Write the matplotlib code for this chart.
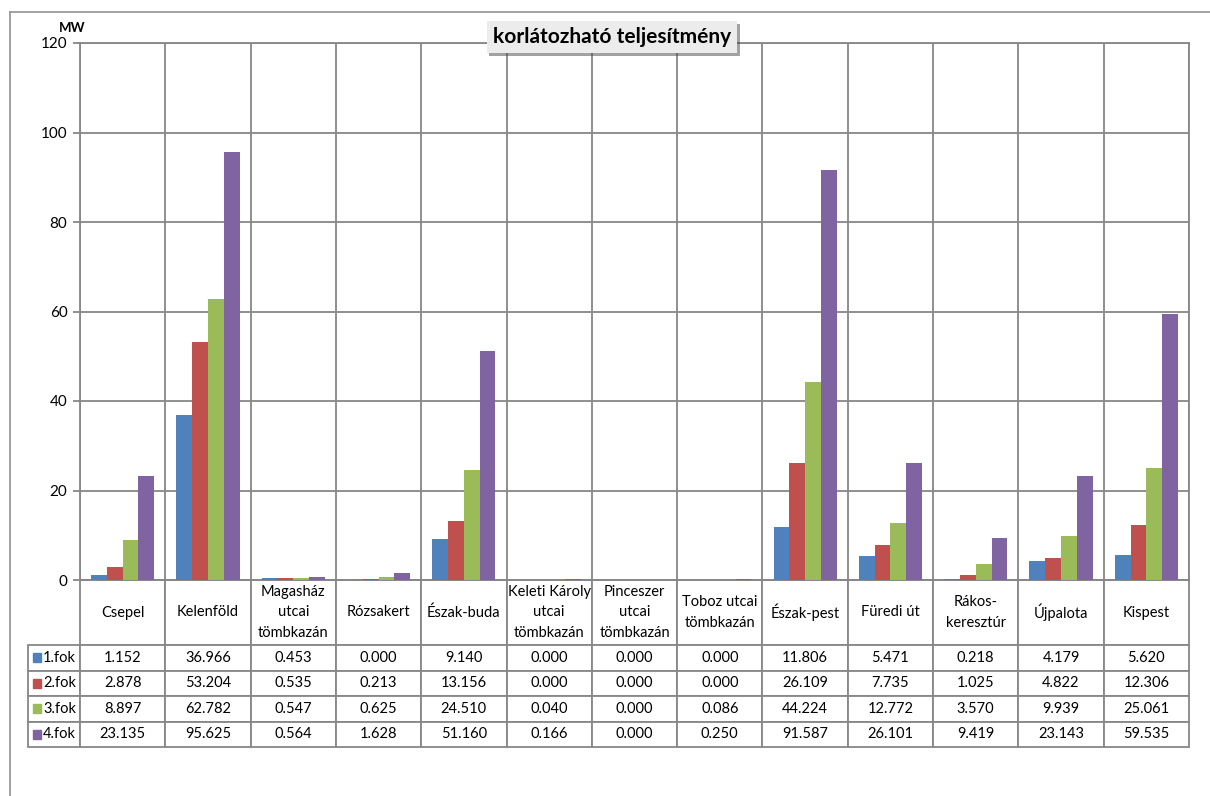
import matplotlib
matplotlib.use('Agg')
import matplotlib.pyplot as plt
import matplotlib.patheffects as pe
from matplotlib.lines import Line2D
from matplotlib.patches import Rectangle
import numpy as np

plt.rcParams['font.family'] = ['Lato', 'DejaVu Sans']

categories = ['Csepel', 'Kelenföld', 'Magasház\nutcai\ntömbkazán', 'Rózsakert',
              'Észak-buda', 'Keleti Károly\nutcai\ntömbkazán', 'Pinceszer\nutcai\ntömbkazán',
              'Toboz utcai\ntömbkazán', 'Észak-pest', 'Füredi út', 'Rákos-\nkeresztúr',
              'Újpalota', 'Kispest']
series_names = ['1.fok', '2.fok', '3.fok', '4.fok']
fok1 = [1.152, 36.966, 0.453, 0.000, 9.140, 0.000, 0.000, 0.000, 11.806, 5.471, 0.218, 4.179, 5.620]
fok2 = [2.878, 53.204, 0.535, 0.213, 13.156, 0.000, 0.000, 0.000, 26.109, 7.735, 1.025, 4.822, 12.306]
fok3 = [8.897, 62.782, 0.547, 0.625, 24.510, 0.040, 0.000, 0.086, 44.224, 12.772, 3.570, 9.939, 25.061]
fok4 = [23.135, 95.625, 0.564, 1.628, 51.160, 0.166, 0.000, 0.250, 91.587, 26.101, 9.419, 23.143, 59.535]
series = [fok1, fok2, fok3, fok4]
colors = ['#4F81BD', '#C0504D', '#9BBB59', '#8064A2']
title = 'korlátozható teljesítmény'

W, H = 1210, 796
grid_c = '#878787'
fig = plt.figure(figsize=(W / 100, H / 100), dpi=100)
AXW, AXH = 1189 - 80, 580 - 43
ax = fig.add_axes([80 / W, 1 - 580 / H, AXW / W, AXH / H])

x = np.arange(len(categories))
bw = 0.185
for i, vals in enumerate(series):
    ax.bar(x + (i - 1.5) * bw, vals, bw, color=colors[i], zorder=3)

ax.set_xlim(-0.5, len(categories) - 0.5)
ax.set_ylim(0, 120)
ax.set_yticks(np.arange(0, 121, 20))
ax.set_xticks(np.arange(-0.5, len(categories), 1))
ax.set_xticklabels([])
ax.tick_params(axis='x', length=0)
ax.tick_params(axis='y', length=5, color=grid_c, width=1.3, labelsize=11, pad=4)
ax.grid(True, color=grid_c, linewidth=1.3, zorder=0)
for s in ax.spines.values():
    s.set_color(grid_c)
    s.set_linewidth(1.3)

ax.text(-8 / AXW, 1 + 15 / AXH, 'MW', transform=ax.transAxes, ha='center', va='center',
        fontsize=9.5, fontweight='bold')

# data table under the chart; first column holds the legend labels
lab_w, head_h, row_h = 52, 65, 25.5
cell_text = [[name] + ['%.3f' % v for v in vals] for name, vals in zip(series_names, series)]
col_w = [lab_w] + [AXW / len(categories)] * len(categories)
tab_h = head_h + len(series) * row_h
tab = ax.table(cellText=cell_text, colLabels=[''] + categories, colWidths=col_w,
               cellLoc='center',
               bbox=[-lab_w / AXW, -tab_h / AXH, 1 + lab_w / AXW, tab_h / AXH])
tab.auto_set_font_size(False)
tab.set_fontsize(10.5)
for (r, c), cell in tab.get_celld().items():
    cell.set_edgecolor(grid_c)
    cell.set_linewidth(1.3)
    cell.set_height(head_h if r == 0 else row_h)
    if r == 0:
        cell.set_text_props(linespacing=1.6)
        if c == 0:
            cell.visible_edges = ''
    if c == 0:
        cell._loc = 'left'
        cell.get_text().set_horizontalalignment('left')
        cell.PAD = 0.29

for i, name in enumerate(series_names):
    yc = -(head_h + row_h * (i + 0.5)) / AXH
    ax.add_patch(Rectangle((-47 / AXW, yc - 4.5 / AXH), 8 / AXW, 9 / AXH,
                           transform=ax.transAxes, color=colors[i], clip_on=False, zorder=5))

# title box with shadow
t = fig.text(612 / W, 1 - 37 / H, title, ha='center', va='center', fontsize=15,
             fontweight='bold', zorder=10,
             bbox=dict(boxstyle='square,pad=0.3', facecolor='#ececec', edgecolor='none'))
t.get_bbox_patch().set_path_effects([pe.SimplePatchShadow(offset=(2, -2), alpha=0.5), pe.Normal()])

# outer frame
fig.add_artist(Line2D([10 / W, 1], [1 - 12 / H, 1 - 12 / H], color='#9a9a9a', linewidth=1.3))
fig.add_artist(Line2D([10 / W, 10 / W], [0, 1 - 12 / H], color='#9a9a9a', linewidth=1.3))

fig.savefig('out.png', dpi=100)
